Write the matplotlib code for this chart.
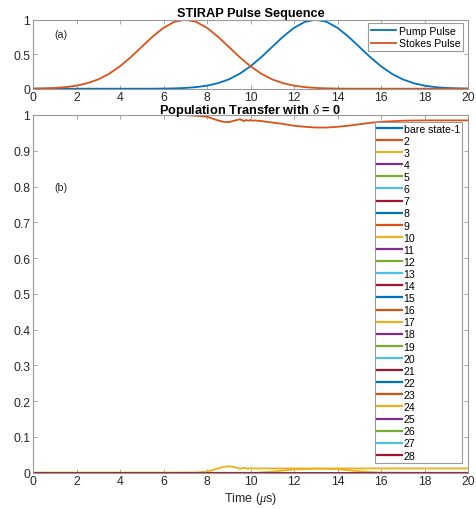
import matplotlib
matplotlib.use("Agg")
import matplotlib.pyplot as plt
from matplotlib import font_manager as fm
from matplotlib.ticker import FixedLocator

# keep the regular-width Liberation Sans faces only
fm.fontManager.ttflist = [f for f in fm.fontManager.ttflist
                          if 'narrow' not in f.fname.lower()]
plt.rcParams['font.family'] = ['Liberation Sans', 'DejaVu Sans']
plt.rcParams['mathtext.fontset'] = 'custom'
plt.rcParams['mathtext.it'] = 'Liberation Serif:italic'
plt.rcParams['mathtext.rm'] = 'Liberation Sans'

# ---- pulse sequence (panel a) ----
t_pulse = [0.0, 0.5, 1.0, 1.5, 2.0, 2.5, 3.0, 3.5, 4.0, 4.5, 5.0, 5.5, 6.0, 6.5,
           7.0, 7.5, 8.0, 8.5, 9.0, 9.5, 10.0, 10.5, 11.0, 11.5, 12.0, 12.5, 13.0,
           13.5, 14.0, 14.5, 15.0, 15.5, 16.0, 16.5, 17.0, 17.5, 18.0, 18.5, 19.0,
           19.5, 20.0]
pump = [0.0, 0.0, 0.0, 0.0, 0.0, 0.0, 0.0, 0.0, 0.0, 0.0, 0.0, 0.0, 0.002, 0.005,
        0.011, 0.023, 0.044, 0.080, 0.135, 0.216, 0.325, 0.458, 0.607, 0.755, 0.882,
        0.969, 1.0, 0.969, 0.882, 0.755, 0.607, 0.458, 0.325, 0.216, 0.135, 0.080,
        0.044, 0.023, 0.011, 0.005, 0.002]
stokes = [0.002, 0.005, 0.011, 0.023, 0.044, 0.080, 0.135, 0.216, 0.325, 0.458,
          0.607, 0.755, 0.882, 0.969, 1.0, 0.969, 0.882, 0.755, 0.607, 0.458, 0.325,
          0.216, 0.135, 0.080, 0.044, 0.023, 0.011, 0.005, 0.002, 0.0, 0.0, 0.0, 0.0,
          0.0, 0.0, 0.0, 0.0, 0.0, 0.0, 0.0, 0.0]

# ---- populations (panel b) ----
t_pop = [0, 1, 2, 3, 4, 5, 6, 7, 7.5, 8, 8.25, 8.5, 8.75, 9, 9.25, 9.5, 9.6, 9.7,
         9.8, 9.9, 10, 10.1, 10.2, 10.3, 10.5, 11, 11.5, 12, 12.5, 13, 13.5, 14,
         14.5, 15, 15.5, 16, 17, 18, 19, 20]
pop_state2 = [1.0, 1.0, 1.0, 1.0, 1.0, 1.0, 1.0, 0.9995, 0.998, 0.995, 0.99, 0.985,
              0.981, 0.98, 0.984, 0.988, 0.986, 0.983, 0.986, 0.984, 0.986, 0.984,
              0.985, 0.984, 0.983, 0.979, 0.975, 0.970, 0.967, 0.965, 0.965, 0.967,
              0.970, 0.974, 0.978, 0.981, 0.984, 0.985, 0.985, 0.985]
pop_state3 = [0.0, 0.0, 0.0, 0.0, 0.0, 0.0, 0.0, 0.0, 0.0005, 0.003, 0.007, 0.012,
              0.016, 0.018, 0.016, 0.011, 0.012, 0.014, 0.012, 0.011, 0.013, 0.012,
              0.012, 0.012, 0.012, 0.012, 0.012, 0.012, 0.012, 0.012, 0.012, 0.012,
              0.012, 0.012, 0.012, 0.012, 0.012, 0.012, 0.012, 0.012]
pop_state10 = [0.0, 0.0, 0.0, 0.0, 0.0, 0.0, 0.0, 0.0, 0.0, 0.0, 0.0, 0.0, 0.0, 0.0,
               0.0, 0.0, 0.0, 0.0, 0.0, 0.0, 0.0, 0.0, 0.0, 0.0, 0.001, 0.003, 0.006,
               0.009, 0.010, 0.011, 0.011, 0.010, 0.007, 0.004, 0.002, 0.0005, 0.0,
               0.0, 0.0, 0.0]
pop_zero = [0.0] * len(t_pop)
n_states = 28
state_labels = ['bare state-1'] + [str(k) for k in range(2, n_states + 1)]

populations = []
for k in range(1, n_states + 1):
    if k == 2:
        populations.append(pop_state2)
    elif k == 3:
        populations.append(pop_state3)
    elif k == 10:
        populations.append(pop_state10)
    else:
        populations.append(pop_zero)

matlab_colors = ['#0072BD', '#D95319', '#EDB120', '#7E2F8E',
                 '#77AC30', '#4DBEEE', '#A2142F']

W, H = 476, 510
fig = plt.figure(figsize=(W / 100, H / 100), dpi=100)

def px_axes(x0, y0, x1, y1):
    return fig.add_axes([x0 / W, 1 - y1 / H, (x1 - x0) / W, (y1 - y0) / H])

spine_col = '#9a9a9a'
text_col = '#262626'
tick_fs = 8.8

def style(ax):
    for s in ax.spines.values():
        s.set_color(spine_col)
        s.set_linewidth(0.8)
    ax.tick_params(direction='in', top=True, right=True, length=3,
                   width=0.6, color=spine_col, labelsize=tick_fs,
                   labelcolor=text_col, pad=2)

ax1 = px_axes(33, 20.7, 468, 89.7)
ax2 = px_axes(33, 116, 468, 473.7)

# panel (a)
ax1.plot(t_pulse, pump, color=matlab_colors[0], lw=1.3, label='Pump Pulse')
ax1.plot(t_pulse, stokes, color=matlab_colors[1], lw=1.3, label='Stokes Pulse')
ax1.set_xlim(0, 20)
ax1.set_ylim(0, 1)
ax1.xaxis.set_major_locator(FixedLocator(range(0, 21, 2)))
ax1.yaxis.set_major_locator(FixedLocator([0, 0.5, 1]))
ax1.set_yticklabels(['0', '0.5', '1'])
style(ax1)
ax1.set_title('STIRAP Pulse Sequence', fontsize=9.2, fontweight='bold',
              color='black', pad=3)
ax1.text(1, 0.8, '(a)', fontsize=7.7, color=text_col, va='center', ha='left')
leg1 = ax1.legend(loc='upper right', bbox_to_anchor=(463 / W, 1 - 24 / H),
                  bbox_transform=fig.transFigure, fontsize=7.6, frameon=True,
                  fancybox=False, edgecolor=spine_col, framealpha=1,
                  handlelength=2.4, handletextpad=0.25, borderpad=0.25,
                  labelspacing=0.25, borderaxespad=0)
leg1.get_frame().set_linewidth(0.8)

# panel (b)
for k in range(n_states):
    ax2.plot(t_pop, populations[k], color=matlab_colors[k % 7], lw=1.3,
             label=state_labels[k])
ax2.set_xlim(0, 20)
ax2.set_ylim(0, 1)
ax2.xaxis.set_major_locator(FixedLocator(range(0, 21, 2)))
yt = [i / 10 for i in range(11)]
ax2.yaxis.set_major_locator(FixedLocator(yt))
ax2.set_yticklabels(['0'] + [f'{v:.1f}' for v in yt[1:-1]] + ['1'])
style(ax2)
ax2.set_title(r'Population Transfer with $\delta$ = 0', fontsize=9.2,
              fontweight='bold', color='black', pad=1.5)
ax2.text(1, 0.8, '(b)', fontsize=7.7, color=text_col, va='center', ha='left')
ax2.set_xlabel(r'Time ($\mu$s)', fontsize=9, color=text_col, labelpad=2)
leg2 = ax2.legend(loc='upper right', bbox_to_anchor=(462 / W, 1 - 122.5 / H),
                  bbox_transform=fig.transFigure, fontsize=7.6, frameon=True,
                  fancybox=False, edgecolor=spine_col, framealpha=1,
                  handlelength=2.3, handletextpad=0.2, borderpad=0.2,
                  labelspacing=0.2, borderaxespad=0)
leg2.get_frame().set_linewidth(0.8)
for line in leg2.get_lines():
    line.set_linewidth(1.6)

fig.savefig('out.png', dpi=100)
